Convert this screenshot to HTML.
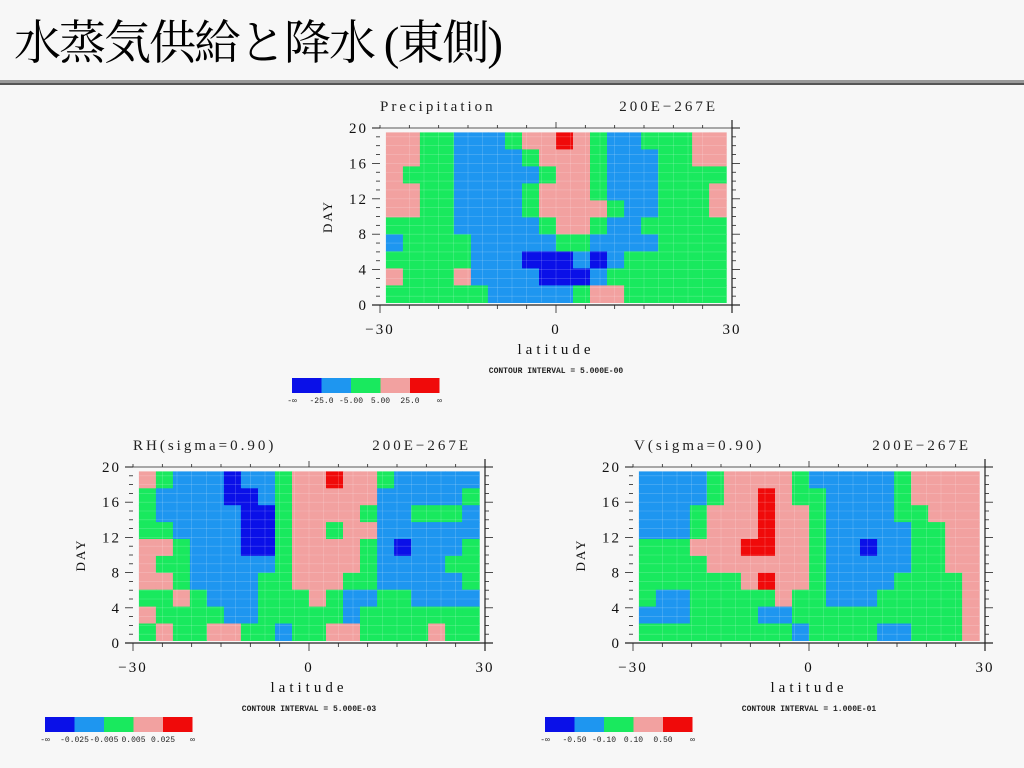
<!DOCTYPE html>
<html><head><meta charset="utf-8">
<style>
html,body{margin:0;padding:0;background:#f7f7f7;width:1024px;height:768px;overflow:hidden}
#title{position:absolute;left:14px;top:14px;font-family:"Liberation Serif","Noto Serif CJK SC","Noto Sans CJK JP",serif;font-size:47px;color:#000;letter-spacing:-2px;line-height:60px}
#rule1{position:absolute;left:0;top:80px;width:1024px;height:3px;background:#999}
#rule2{position:absolute;left:0;top:83px;width:1024px;height:2px;background:#555}
svg{position:absolute;left:0;top:0}
</style></head><body>
<div id="title">水蒸気供給と降水 (東側)</div>
<div id="rule1"></div>
<div id="rule2"></div>
<svg id="s" width="1024" height="768" xmlns="http://www.w3.org/2000/svg"></svg>
<script>
const palette=["#0a10e8","#1e96f0","#19e95e","#f2a1a0","#f00a0a"];
const latEdges=[-29,29];
const dayEdges=[0.3,19.5];
const xTicks=[-30,0,30];
const yTicks=[0,4,8,12,16,20];
const precipRows=[
"33221112334321122233",
"33221111233321112233",
"32221111123321112222",
"33221111233321112223",
"33221111233332112223",
"22221111123321122222",
"12222111112211112222",
"22222111000101222222",
"32223111100012222222",
"22222211111233222222"];
const rhRows=[
"32111011233433211111",
"21111001233333111112",
"21111100233332112221",
"22111100233233111111",
"33211100233332101112",
"32211111233332111122",
"33211112233322111112",
"22321112223211221111",
"32222112222212222222",
"23223322122332222322"];
const vRows=[
"11112333321111123333",
"11112334322111123333",
"11123334332111122333",
"11123334332111112233",
"22233344332110112233",
"22223333332111112233",
"22222234332111122223",
"21122222322111222223",
"11122221122222222223",
"22222222212222112223"];
const precipBar=["-∞","-25.0","-5.00","5.00","25.0","∞"];
const rhBar=["-∞","-0.025","-0.005","0.005","0.025","∞"];
const vBar=["-∞","-0.50","-0.10","0.10","0.50","∞"];

const NS="http://www.w3.org/2000/svg";
const svg=document.getElementById('s');
function mk(tag,attrs,parent){const e=document.createElementNS(NS,tag);for(const k in attrs)e.setAttribute(k,attrs[k]);(parent||svg).appendChild(e);return e;}

function chart(cfg){
  const g=mk('g',{});
  
  
  const X=v=>cfg.x0+(v+30)/60*(cfg.x1-cfg.x0);
  const Y=v=>cfg.y0-v/20*(cfg.y0-cfg.y1);
  const rows=cfg.rows, nr=rows.length, nc=rows[0].length;
  const dl=(latEdges[1]-latEdges[0])/nc, dd=(dayEdges[1]-dayEdges[0])/nr;
  for(let r=0;r<nr;r++){
    for(let c=0;c<nc;c++){
      const lev=+rows[r][c];
      const la=latEdges[0]+c*dl, da=dayEdges[1]-(r+1)*dd;
      const x=X(la),y=Y(da+dd);
      const cell=mk('rect',{x:x.toFixed(1),y:y.toFixed(1),width:(X(la+dl)-x+0.6).toFixed(1),height:(Y(da)-y+0.6).toFixed(1),fill:palette[lev]},g);
      
      
    }
  }
  for(let v=-25;v<=25;v+=2.5) mk('line',{x1:X(v),x2:X(v),y1:Y(dayEdges[1]),y2:Y(dayEdges[0]),stroke:'#fff','stroke-opacity':0.25,'stroke-width':0.6},g);
  for(let v=1;v<20;v+=1) mk('line',{x1:X(latEdges[0]),x2:X(latEdges[1]),y1:Y(v),y2:Y(v),stroke:'#fff','stroke-opacity':0.25,'stroke-width':0.6},g);
  const ax=mk('g',{stroke:'#222','stroke-width':1.2},g);
  
  
  mk('line',{x1:X(-30)-8,x2:X(30)+8,y1:Y(0),y2:Y(0)},ax);
  mk('line',{x1:X(-30)-8,x2:X(30)+8,y1:Y(20),y2:Y(20),stroke:'#777'},ax);
  mk('line',{x1:X(30),x2:X(30),y1:Y(20)-8,y2:Y(0)+8},ax);
  for(let v=-30;v<=30;v+=5){mk('line',{x1:X(v),x2:X(v),y1:Y(0),y2:Y(0)+(v%30==0?8:4),'stroke-width':0.8},ax);mk('line',{x1:X(v),x2:X(v),y1:Y(20),y2:Y(20)-(v==0?6:3),'stroke-width':0.8},ax);}
  for(let v=0;v<=20;v+=1){const L=v%4==0?8:4;mk('line',{x1:X(-30)-L,x2:X(-30),y1:Y(v),y2:Y(v),'stroke-width':0.8},ax);mk('line',{x1:X(30),x2:X(30)+L,y1:Y(v),y2:Y(v),'stroke-width':0.8},ax);}
  const tf='font-family:"Liberation Serif",serif;font-size:15px;fill:#111;letter-spacing:2px';
  xTicks.forEach(v=>{const t=mk('text',{x:X(v),y:Y(0)+29,'text-anchor':'middle',style:tf},g);t.textContent=(v<0?'−':'')+Math.abs(v);});
  yTicks.forEach(v=>{const t=mk('text',{x:X(-30)-12,y:Y(v)+5,'text-anchor':'end',style:tf},g);t.textContent=v;});
  const xl=mk('text',{x:X(0),y:Y(0)+49,'text-anchor':'middle',style:tf+';letter-spacing:4px'},g);xl.textContent='latitude';
  
  const yl=mk('text',{x:0,y:0,'text-anchor':'middle',style:'font-family:"Liberation Serif",serif;font-size:13px;fill:#111;letter-spacing:2px',transform:`translate(${X(-30)-48},${Y(10)}) rotate(-90)`},g);yl.textContent='DAY';
  
  const t1=mk('text',{x:cfg.tx,y:Y(20)-17,style:'font-family:"Liberation Serif",serif;font-size:15px;fill:#222;letter-spacing:3px'},g);t1.textContent=cfg.title;
  
  const t2=mk('text',{x:X(30)-14,y:Y(20)-17,'text-anchor':'end',style:'font-family:"Liberation Serif",serif;font-size:15px;fill:#222;letter-spacing:3px'},g);t2.textContent='200E−267E';
  
  const ci=mk('text',{x:X(0),y:Y(0)+68,'text-anchor':'middle',style:'font-family:"Liberation Mono",monospace;font-size:8px;font-weight:bold;fill:#222'},g);ci.textContent=cfg.ci;
  
  const cb=mk('g',{},g);
  
  for(let i=0;i<5;i++){const r=mk('rect',{x:cfg.bx+i*29.5,y:cfg.by,width:29.5,height:15,fill:palette[i]},cb);}
  cfg.bar.forEach((s,i)=>{const t=mk('text',{x:cfg.bx+i*29.5,y:cfg.by+25,'text-anchor':'middle',style:'font-family:"Liberation Mono",monospace;font-size:8px;fill:#222'},cb);t.textContent=s;});
}
chart({name:'precipitation-chart',rows:precipRows,x0:380,x1:732,y0:305,y1:128,tx:380,title:'Precipitation',ci:'CONTOUR INTERVAL = 5.000E-00',bar:precipBar,bx:292,by:378});
chart({name:'rh-chart',rows:rhRows,x0:133,x1:485,y0:643,y1:467,tx:133,title:'RH(sigma=0.90)',ci:'CONTOUR INTERVAL = 5.000E-03',bar:rhBar,bx:45,by:717});
chart({name:'v-chart',rows:vRows,x0:633,x1:985,y0:643,y1:467,tx:634,title:'V(sigma=0.90)',ci:'CONTOUR INTERVAL = 1.000E-01',bar:vBar,bx:545,by:717});
</script>
</body></html>
